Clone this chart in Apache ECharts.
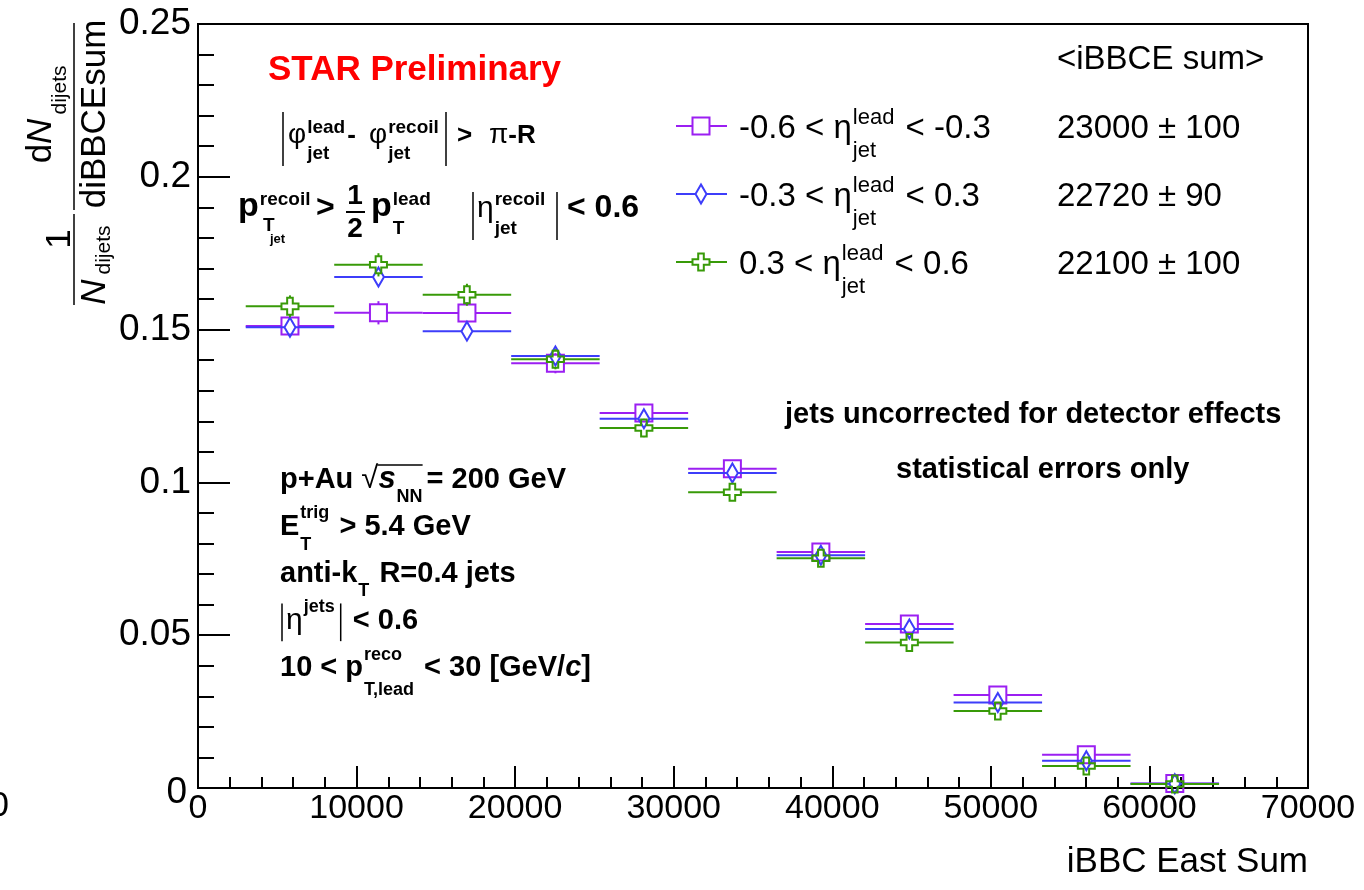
<!DOCTYPE html>
<html>
<head>
<meta charset="utf-8">
<script src="https://cdn.jsdelivr.net/npm/echarts@6/dist/echarts.min.js"></script>
<style>
  html, body { margin: 0; padding: 0; background: #fff; }
  #chart { width: 1364px; height: 890px; }
</style>
</head>
<body>
<div id="chart"></div>
<script>
// iBBC East Sum bins (centres) and the half width of every bin
const binCenters = [5800, 11380, 16960, 22540, 28120, 33700, 39280, 44860, 50440, 56020, 61600];
const binHalfWidth = 2790;

// -0.6 < eta_lead < -0.3
const etaBack = [0.1512, 0.1555, 0.1554, 0.1390, 0.1227, 0.1045, 0.0772, 0.0537, 0.0304, 0.0109, 0.0015];
const etaBackErr = [0.0036, 0.0038, 0.0036, 0.0033, 0.0030, 0.0027, 0.0023, 0.0019, 0.0014, 0.0009, 0.0003];
// -0.3 < eta_lead < 0.3
const etaMid = [0.1508, 0.1672, 0.1495, 0.1414, 0.1208, 0.1031, 0.0762, 0.0520, 0.0280, 0.0089, 0.0014];
const etaMidErr = [0.0027, 0.0030, 0.0027, 0.0025, 0.0023, 0.0020, 0.0017, 0.0014, 0.0010, 0.0006, 0.0002];
// 0.3 < eta_lead < 0.6
const etaFwd = [0.1576, 0.1712, 0.1614, 0.1403, 0.1178, 0.0968, 0.0752, 0.0476, 0.0252, 0.0072, 0.0013];
const etaFwdErr = [0.0036, 0.0038, 0.0036, 0.0033, 0.0030, 0.0027, 0.0023, 0.0019, 0.0014, 0.0009, 0.0003];

const meanSum = ['23000 \u00b1 100', '22720 \u00b1 90', '22100 \u00b1 100'];
const xTicks = [0, 10000, 20000, 30000, 40000, 50000, 60000, 70000];
const yTicks = [0, 0.05, 0.1, 0.15, 0.2, 0.25];

const FONT = '"Liberation Sans", Arial, Helvetica, sans-serif';
const PURPLE = '#9b1ff2', BLUE = '#3d3dfa', GREEN = '#389a08';

// marker outlines, ROOT style open markers
const MARK = {
  square: { hx: 8.5, hy: 8.5 },
  diamond: { hx: 5.5, hy: 9.5, pts: [[0, -9.5], [5.5, 0], [0, 9.5], [-5.5, 0]] },
  cross: { hx: 8.5, hy: 8.5, pts: [[-2.8, -8.5], [2.8, -8.5], [2.8, -2.8], [8.5, -2.8], [8.5, 2.8], [2.8, 2.8],
                                  [2.8, 8.5], [-2.8, 8.5], [-2.8, 2.8], [-8.5, 2.8], [-8.5, -2.8], [-2.8, -2.8]] }
};

function markerEl(shape, cx, cy, color) {
  const m = MARK[shape];
  if (shape === 'square') {
    return { type: 'rect', shape: { x: cx - m.hx, y: cy - m.hy, width: 2 * m.hx, height: 2 * m.hy },
             style: { fill: 'none', stroke: color, lineWidth: 2 } };
  }
  return { type: 'polygon', shape: { points: m.pts.map(p => [cx + p[0], cy + p[1]]) },
           style: { fill: 'none', stroke: color, lineWidth: 2 } };
}

function seg(x1, y1, x2, y2, color, w) {
  return { type: 'line', shape: { x1: x1, y1: y1, x2: x2, y2: y2 }, style: { stroke: color, lineWidth: w || 2 } };
}

function errSeries(name, vals, errs, color, shape) {
  return {
    type: 'custom',
    name: name,
    data: binCenters.map((c, i) => [c, vals[i], errs[i]]),
    renderItem: function (params, api) {
      const x = api.value(0), y = api.value(1), e = api.value(2);
      const p = api.coord([x, y]);
      const l = api.coord([x - binHalfWidth, y]);
      const r = api.coord([x + binHalfWidth, y]);
      const t = api.coord([x, y + e]);
      const b = api.coord([x, y - e]);
      const m = MARK[shape];
      const kids = [
        seg(l[0], p[1], p[0] - m.hx, p[1], color),
        seg(p[0] + m.hx, p[1], r[0], p[1], color)
      ];
      if (t[1] < p[1] - m.hy) kids.push(seg(p[0], t[1], p[0], p[1] - m.hy, color));
      if (b[1] > p[1] + m.hy) kids.push(seg(p[0], p[1] + m.hy, p[0], b[1], color));
      kids.push(markerEl(shape, p[0], p[1], color));
      return { type: 'group', children: kids };
    }
  };
}

// ---- text helpers (annotations, ROOT-like sub/superscripts)
const mctx = document.createElement('canvas').getContext('2d');
function textWidth(t, size, bold, it) {
  mctx.font = (it ? 'italic ' : '') + (bold ? 'bold ' : '') + size + 'px ' + FONT;
  return mctx.measureText(t).width;
}
function label(x, y, t, size, o) {
  o = o || {};
  return {
    type: 'text', x: x, y: y, z: 20, silent: true, rotation: o.rot || 0,
    style: {
      text: t, fill: o.color || '#000', fontSize: size, fontFamily: FONT,
      fontWeight: o.bold ? 'bold' : 'normal', fontStyle: o.it ? 'italic' : 'normal',
      rich: o.rich, textAlign: o.align || 'left', textVerticalAlign: 'middle'
    }
  };
}
function vbar(x, y1, y2) {
  return { type: 'line', z: 20, silent: true, shape: { x1: x, y1: y1, x2: x, y2: y2 }, style: { stroke: '#000', lineWidth: 1.5 } };
}
// lays fragments left to right on a baseline, returns end x
function run(els, x, base, size, bold, parts) {
  parts.forEach(function (p) {
    if (typeof p === 'string') p = { t: p };
    if (p.bar) { els.push(vbar(x + 4, base - size * 0.95, base + size * 0.35)); x += 8; return; }
    const s = p.size || size;
    const b = p.bold !== undefined ? p.bold : bold;
    if (p.t) {
      els.push(label(x, base - 0.35 * s, p.t, s, { bold: b, it: p.it }));
      x += textWidth(p.t, s, b, p.it);
    }
    const ss = p.ss || Math.round(size * 0.64);
    const sb = p.sb !== undefined ? p.sb : bold;
    let w = 0;
    if (p.sup) {
      els.push(label(x + 1, base - (p.up || 0.68) * size, p.sup, ss, { bold: sb }));
      w = Math.max(w, textWidth(p.sup, ss, sb));
    }
    if (p.sub) {
      els.push(label(x + 1, base + (p.dn || 0.32) * size, p.sub, ss, { bold: sb }));
      w = Math.max(w, textWidth(p.sub, ss, sb));
    }
    if (w) x += w + 3;
  });
  return x;
}

const els = [];

// y axis title: 1/N_dijets dN_dijets/diBBCEsum, rotated
const R = Math.PI / 2;
els.push(label(41, 141, '{a|d}{b|N}', 35, { rot: R, align: 'center', rich: { a: { fontSize: 35, fontFamily: FONT }, b: { fontSize: 35, fontFamily: FONT, fontStyle: 'italic' } } }));
els.push(label(60, 90, 'dijets', 21, { rot: R, align: 'center' }));
els.push(label(95, 114, 'diBBCEsum', 35, { rot: R, align: 'center' }));
els.push(label(60, 239, '1', 35, { rot: R, align: 'center' }));
els.push(label(95, 292, 'N', 35, { rot: R, align: 'center', it: true }));
els.push(label(104, 250, 'dijets', 21, { rot: R, align: 'center' }));
els.push({ type: 'line', z: 20, silent: true, shape: { x1: 74, y1: 23, x2: 74, y2: 210 }, style: { stroke: '#000', lineWidth: 1.5 } });
els.push({ type: 'line', z: 20, silent: true, shape: { x1: 74, y1: 214, x2: 74, y2: 305 }, style: { stroke: '#000', lineWidth: 1.5 } });

// x axis title and the stray clipped label at the far left
els.push(label(1308, 862, 'iBBC East Sum', 35, { align: 'right' }));
els.push(label(9, 806, '0', 35, { align: 'right' }));

// STAR Preliminary
els.push(label(268, 70, 'STAR Preliminary', 35, { bold: true, color: '#ff0000' }));

// cut line A: |phi_lead - phi_recoil| > pi-R
(function () {
  const base = 145, S = 26;
  els.push(vbar(283, 112, 166));
  let x = run(els, 288, base, S, true, [{ t: '\u03c6', bold: false, size: 28, sup: 'lead', sub: 'jet', ss: 19 }]);
  x = run(els, x, base, S, true, ['- ']);
  x = run(els, 369, base, S, true, [{ t: '\u03c6', bold: false, size: 28, sup: 'recoil', sub: 'jet', ss: 19 }]);
  els.push(vbar(446, 112, 166));
  x = run(els, 457, base, S, true, ['>']);
  run(els, 489, base, S, true, [{ t: '\u03c0', bold: false, size: 28 }, '-R']);
})();

// cut line B: pT recoil > 1/2 pT lead, |eta recoil| < 0.6
(function () {
  const base = 219, S = 32;
  run(els, 238, base, S, true, [{ t: 'p', size: 34, sup: 'recoil', up: 0.6, ss: 19 }]);
  els.push(label(263, 226, 'T', 19, { bold: true }));
  els.push(label(270, 239, 'jet', 13, { bold: true }));
  run(els, 316, base, S, true, ['>']);
  els.push(label(355, 196, '1', 28, { bold: true, align: 'center' }));
  els.push(label(355, 229, '2', 28, { bold: true, align: 'center' }));
  els.push({ type: 'line', z: 20, silent: true, shape: { x1: 346, y1: 212, x2: 365, y2: 212 }, style: { stroke: '#000', lineWidth: 2 } });
  run(els, 371, base, S, true, [{ t: 'p', size: 34, sup: 'lead', sub: 'T', up: 0.6, ss: 19 }]);
  els.push(vbar(473, 192, 240));
  run(els, 477, base, S, true, [{ t: '\u03b7', bold: false, size: 30, sup: 'recoil', sub: 'jet', up: 0.6, ss: 19 }]);
  els.push(vbar(557, 192, 240));
  run(els, 567, base, S, true, ['< 0.6']);
})();

// legend, drawn by hand like ROOT's TLegend
const legendRows = [
  { y: 126, base: 140, color: PURPLE, shape: 'square', parts: ['-0.6 < ', { t: '\u03b7', sup: 'lead', sub: 'jet' }, ' < -0.3'] },
  { y: 194, base: 208, color: BLUE, shape: 'diamond', parts: ['-0.3 < ', { t: '\u03b7', sup: 'lead', sub: 'jet' }, ' < 0.3'] },
  { y: 262, base: 276, color: GREEN, shape: 'cross', parts: ['0.3 < ', { t: '\u03b7', sup: 'lead', sub: 'jet' }, ' < 0.6'] }
];
legendRows.forEach(function (r, i) {
  const m = MARK[r.shape], cx = 701;
  els.push(seg(676, r.y, cx - m.hx, r.y, r.color));
  els.push(seg(cx + m.hx, r.y, 727, r.y, r.color));
  els.push(markerEl(r.shape, cx, r.y, r.color));
  run(els, 739, r.base, 33, false, r.parts.map(p => typeof p === 'string' ? p : Object.assign({ ss: 22, up: 0.66, dn: 0.34 }, p)));
  els.push(label(1057, r.base - 11.5, meanSum[i], 33));
});
els.push(label(1057, 60, '<iBBCE sum>', 33));

// right side notes
els.push(label(785, 415, 'jets uncorrected for detector effects', 29, { bold: true }));
els.push(label(896, 470, 'statistical errors only', 29, { bold: true }));

// lower left block
(function () {
  const S = 29;
  // line 1: p+Au sqrt(s_NN) = 200 GeV
  let x = run(els, 280, 490, S, true, ['p+Au ']);
  els.push(label(x, 490 - 0.35 * 31, '\u221a', 31, {}));
  const rx = x + textWidth('\u221a', 31, false) - 1;
  x = run(els, rx + 1, 490, S, true, [{ t: 's', it: true, size: 31, sub: 'NN', dn: 0.25, ss: 18 }]);
  els.push({ type: 'line', z: 20, silent: true, shape: { x1: rx, y1: 465, x2: x - 2, y2: 465 }, style: { stroke: '#000', lineWidth: 1.5 } });
  run(els, x + 2, 490, S, true, ['= 200 GeV']);
  // line 2
  run(els, 280, 537, S, true, [{ t: 'E', sup: 'trig', sub: 'T', ss: 18, up: 0.82, dn: 0.28 }, ' > 5.4 GeV']);
  // line 3
  run(els, 280, 584, S, true, [{ t: 'anti-k', sub: 'T', ss: 18, dn: 0.25 }, ' R=0.4 jets']);
  // line 4
  run(els, 278, 631, S, true, [{ bar: true }, { t: '\u03b7', bold: false, size: 30, sup: 'jets', ss: 18, up: 0.82 }, { bar: true }, ' < 0.6']);
  // line 5
  run(els, 280, 678, S, true, ['10 < ', { t: 'p', sup: 'reco', sub: 'T,lead', ss: 18, up: 0.8, dn: 0.42 }, ' < 30 [GeV/', { t: 'c', it: true }, ']']);
})();

const chart = echarts.init(document.getElementById('chart'));
const axisLine = { show: true, onZero: false, lineStyle: { color: '#000', width: 2 } };
chart.setOption({
  animation: false,
  backgroundColor: '#fff',
  grid: { left: 198, right: 56, top: 24, bottom: 102, show: true, borderColor: '#000', borderWidth: 2, backgroundColor: 'transparent' },
  xAxis: {
    type: 'value',
    min: xTicks[0], max: xTicks[xTicks.length - 1], interval: xTicks[1] - xTicks[0],
    axisLine: axisLine,
    splitLine: { show: false },
    axisTick: { show: true, inside: true, length: 22, lineStyle: { color: '#000', width: 2 } },
    minorTick: { show: true, splitNumber: 5, length: 11, lineStyle: { color: '#000', width: 2 } },
    axisLabel: { color: '#000', fontSize: 34, fontFamily: FONT, margin: 4, showMinLabel: true, showMaxLabel: true,
                 formatter: v => String(v) }
  },
  yAxis: {
    type: 'value',
    min: yTicks[0], max: yTicks[yTicks.length - 1], interval: yTicks[1] - yTicks[0],
    axisLine: axisLine,
    splitLine: { show: false },
    axisTick: { show: true, inside: true, length: 32, lineStyle: { color: '#000', width: 2 } },
    minorTick: { show: true, splitNumber: 5, length: 16, lineStyle: { color: '#000', width: 2 } },
    axisLabel: { color: '#000', fontSize: 37, fontFamily: FONT, margin: 7, showMinLabel: true, showMaxLabel: true,
                 formatter: v => v === 0 ? '{z|0}' : String(+v.toFixed(2)),
                 rich: { z: { fontSize: 37, fontFamily: FONT, color: '#000', padding: [10, 4, 0, 0] } } }
  },
  series: [
    errSeries('-0.6 < eta < -0.3', etaBack, etaBackErr, PURPLE, 'square'),
    errSeries('-0.3 < eta < 0.3', etaMid, etaMidErr, BLUE, 'diamond'),
    errSeries('0.3 < eta < 0.6', etaFwd, etaFwdErr, GREEN, 'cross')
  ],
  graphic: { elements: els }
});
</script>
</body>
</html>
